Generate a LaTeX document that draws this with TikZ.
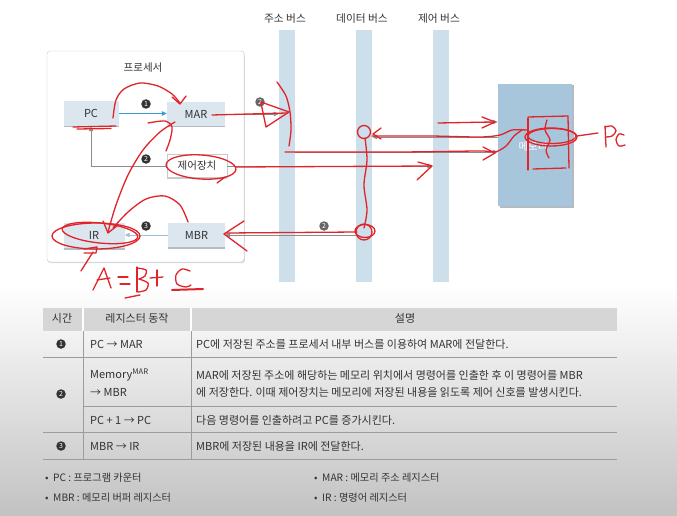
\documentclass[tikz,border=0pt]{standalone}
\usepackage{fontspec}
\setmainfont{Noto Sans CJK KR}
\usetikzlibrary{arrows.meta,shadows}
\definecolor{boxfill}{HTML}{DCE6EF}
\definecolor{boxshadow}{HTML}{B4BDC6}
\definecolor{busfill}{HTML}{CCDFEA}
\definecolor{memfill}{HTML}{A7C6DB}
\definecolor{memshadow}{HTML}{7F8E98}
\definecolor{txt}{HTML}{333333}
\definecolor{linegray}{HTML}{8C8C8C}
\definecolor{arrowblue}{HTML}{3E9BD2}
\definecolor{paleblue}{HTML}{9CC3DD}
\definecolor{pen}{HTML}{E0242A}
\definecolor{hdrfill}{HTML}{D6D6D6}
\definecolor{rulegray}{HTML}{9C9C9C}
\definecolor{bgbot}{HTML}{C2C2C2}
\definecolor{badgefill}{HTML}{333333}
\definecolor{badgegray}{HTML}{666666}
\definecolor{procborder}{HTML}{C9C9C9}
\tikzset{
  fsz/.style={font=\fontsize{#1}{#1}\selectfont},
  reg/.style={fill=boxfill, inner sep=0pt, text=txt, fsz=11,
    drop shadow={shadow xshift=0pt, shadow yshift=-1.5pt, fill=boxshadow, opacity=1}},
  ctrlbox/.style={fill=white, draw=procborder, line width=0.4pt, inner sep=0pt, text=txt, fsz=10.5,
    drop shadow={shadow xshift=0pt, shadow yshift=-1.2pt, fill=boxshadow, opacity=.8}},
  bus/.style={fill=busfill, inner sep=0pt, minimum width=16, minimum height=251},
  buslabel/.style={text=txt, fsz=10.7, inner sep=0pt},
  badge/.style={circle, fill=badgefill, text=white, inner sep=0pt, minimum size=9.5,
    font=\fontsize{7}{7}\selectfont},
  gbadge/.style={badge, fill=badgegray},
  garrow/.style={draw=linegray, line width=0.9pt, -{Triangle[length=5pt,width=4.5pt]}},
  barrow/.style={draw=arrowblue, line width=1pt, -{Triangle[length=5pt,width=4.5pt]}},
  parrow/.style={draw=paleblue, line width=1pt, -{Triangle[length=5pt,width=4.5pt]}},
  redpen/.style={draw=pen, line width=1.3pt, line cap=round, line join=round},
  cell/.style={anchor=west, text=txt, fsz=11, inner sep=0pt},
  hcell/.style={text=txt, fsz=11, inner sep=0pt},
  legend/.style={anchor=west, text=txt, fsz=10.2, inner sep=0pt}
}
\begin{document}
\begin{tikzpicture}[x=1pt,y=-1pt]
\useasboundingbox (0,0) rectangle (677,516);
\fill[white] (0,0) rectangle (677,516);
\shade[top color=white, bottom color=bgbot] (0,285) rectangle (677,516);

% processor
\node[draw=procborder, fill=white, rounded corners=3, minimum width=197, minimum height=211, inner sep=0pt,
  drop shadow={shadow xshift=0.8pt, shadow yshift=-1.2pt, fill=boxshadow, opacity=.6}] (proc) at (145.5,156.5) {};
\node[text=txt, fsz=10.5, inner sep=0pt] (proctitle) at (143,68) {프로세서};

\node[reg, minimum width=55, minimum height=25] (pc) at (91,113.5) {PC};
\node[reg, minimum width=58, minimum height=24] (mar) at (196,114) {MAR};
\node[ctrlbox, minimum width=60, minimum height=23] (ctrl) at (197,166) {제어장치};
\node[reg, minimum width=61, minimum height=25] (ir) at (94,235.5) {IR};
\node[reg, minimum width=57, minimum height=24] (mbr) at (196.5,235) {MBR};

\draw[barrow] (pc.east) -- (pc.east -| mar.west);
\node[badge] (b1) at (146,104) {1};
\draw[garrow] (ctrl.west) -| (pc.south);
\node[badge] (b2) at (146,159) {2};
\draw[parrow] (mbr.west) -- (mbr.west -| ir.east);
\node[badge] (b3) at (146,226) {3};

% buses
\node[bus] (abus) at (287,156) {};
\node[bus] (dbus) at (364,156) {};
\node[bus] (cbus) at (440.5,156) {};
\node[buslabel] (labus) at (285,19) {주소 버스};
\node[buslabel] (ldbus) at (362,19) {데이터 버스};
\node[buslabel] (lcbus) at (439,19) {제어 버스};

% memory
\node[fill=memfill, minimum width=74, minimum height=122, inner sep=0pt,
  drop shadow={shadow xshift=1.5pt, shadow yshift=-1.5pt, fill=memshadow, opacity=.6}] (mem) at (535,145) {};
\node[text=white, fsz=10.5, inner sep=0pt] (memlabel) at (533,147) {메모리};

\coordinate (y122) at (0,122);
\coordinate (y137) at (0,137);
\coordinate (y152) at (0,152);
\coordinate (y235) at (0,235);

\draw[garrow] (mar.east) -- (mar.east -| abus.west);
\node[gbadge] (b2a) at (260,102) {2};
\draw[garrow] (ctrl.east) -- (ctrl.east -| cbus.west);
\draw[garrow] (cbus.east |- y122) -- (mem.west |- y122);
\draw[garrow] (mem.west |- y137) -- (dbus.east |- y137);
\draw[garrow] (abus.east |- y152) -- (mem.west |- y152);
\draw[garrow] (dbus.west |- y235) -- (mbr.east |- y235);
\node[gbadge] (b2b) at (324,226) {2};

% table
\fill[hdrfill] (43,308) rectangle (617,331);
\draw[white, line width=1.2pt] (83,308) -- (83,331) (191,308) -- (191,331);
\draw[rulegray, line width=0.8pt] (43,357) -- (617,357) (83,406.5) -- (617,406.5)
  (43,432.5) -- (617,432.5) (43,459) -- (617,459) (83,331) -- (83,459) (191,331) -- (191,459);
\node[hcell] (h1) at (62,318) {시간};
\node[hcell] (h2) at (137,318) {레지스터 동작};
\node[hcell] (h3) at (405,318) {설명};

\node[badge] (t1) at (61,344) {1};
\node[badge] (t2) at (61,394) {2};
\node[badge] (t3) at (61,446) {3};
\node[cell] (c11) at (90,344) {PC → MAR};
\node[cell] (c21) at (90,375) {Memory\textsuperscript{MAR}};
\node[cell] (c22) at (90,392) {→ MBR};
\node[cell] (c31) at (90,420) {PC + 1 → PC};
\node[cell] (c41) at (90,446) {MBR → IR};
\node[cell] (d1) at (196,344) {PC에 저장된 주소를 프로세서 내부 버스를 이용하여 MAR에 전달한다.};
\node[cell] (d2) at (196,375) {MAR에 저장된 주소에 해당하는 메모리 위치에서 명령어를 인출한 후 이 명령어를 MBR};
\node[cell] (d3) at (196,392) {에 저장한다. 이때 제어장치는 메모리에 저장된 내용을 읽도록 제어 신호를 발생시킨다.};
\node[cell] (d4) at (196,420) {다음 명령어를 인출하려고 PC를 증가시킨다.};
\node[cell] (d5) at (196,446) {MBR에 저장된 내용을 IR에 전달한다.};

% legend
\node[legend] (g1) at (45,478) {•\ \ PC : 프로그램 카운터};
\node[legend] (g2) at (45,497.5) {•\ \ MBR : 메모리 버퍼 레지스터};
\node[legend] (g3) at (314,478) {•\ \ MAR : 메모리 주소 레지스터};
\node[legend] (g4) at (314,497.5) {•\ \ IR : 명령어 레지스터};

% red annotations
\draw[redpen] plot[smooth] coordinates {(113,118) (116,100) (124,89) (140,83) (158,86) (172,94) (180,103)};
\draw[redpen] (172,97) -- (180,104) -- (186,96);
\draw[redpen] (73,127) -- (116,126);
\draw[redpen] (77,129) -- (111,128.5);
\draw[redpen] (212,115) -- (287,113);
\draw[redpen] (261,102) -- (289,112) -- (266,127) -- (261,103);
\draw[redpen] plot[smooth] coordinates {(277,82) (286,96) (290,112) (291,130) (289,146)};
\draw[redpen, rotate around={-4:(201,167)}] (201,167) ellipse [x radius=35, y radius=12];
\draw[redpen] (225,177) -- (217,183);
\draw[redpen] (236,167) -- (431,166);
\draw[redpen] (418,162) -- (432,166) -- (417,180);
\draw[redpen] plot[smooth] coordinates {(148,123) (165,121) (172,127) (170,140) (166,151)};
\draw[redpen] plot[smooth] coordinates {(175,122) (160,132) (143,150) (128,175) (116,205) (108,232)};
\draw[redpen] (103,221) -- (108,233) -- (118,225);
\draw[redpen] plot[smooth] coordinates {(188,222) (180,205) (165,196) (146,199) (128,212) (113,228)};
\draw[redpen] (96,236) ellipse [x radius=44, y radius=13];
\draw[redpen, rotate around={-6:(100,233)}] (100,233) ellipse [x radius=38, y radius=10];
\draw[redpen] (84,249) -- (97,247) -- (96,253) -- (84,253);
\draw[redpen] (93,252) -- (81,271);
% A = B + C
\draw[redpen] (93,290) -- (104,268) -- (111,288);
\draw[redpen] (97,280) -- (110,278);
\draw[redpen] (118,277) -- (128,277);
\draw[redpen] (120,284) -- (130,284);
\draw[redpen] (137,267) -- (137,292);
\draw[redpen] plot[smooth] coordinates {(137,268) (146,270) (145,276) (139,279)};
\draw[redpen] plot[smooth] coordinates {(139,279) (148,283) (146,290) (138,292)};
\draw[redpen] (150,278) -- (163,277);
\draw[redpen] (157,270) -- (157,286);
\draw[redpen] plot[smooth] coordinates {(190,271) (182,269) (176,275) (177,284) (186,287) (191,285)};
\draw[redpen, line width=2pt] (172,290) -- (203,289);
\draw[redpen] (125,298) -- (140,295);
% data bus & memory
\draw[redpen] (364,132) circle [radius=6.5];
\draw[redpen] (381,128) -- (373,134) -- (381,139);
\draw[redpen] plot[smooth] coordinates {(365,138) (367,160) (364,185) (367,210) (364,228)};
\draw[redpen] (364,232) circle [radius=8];
\draw[redpen] (365,231) ellipse [x radius=10, y radius=6.5];
\draw[redpen] (357,232) -- (226,233);
\draw[redpen] (244,221) -- (224,234) -- (247,251);
\draw[redpen] (438,123) -- (492,122);
\draw[redpen] (482,117) -- (495,122) -- (482,128);
\draw[redpen] plot[smooth] coordinates {(372,136) (430,136) (480,137) (500,135) (512,130) (527,130)};
\draw[redpen] plot[smooth] coordinates {(285,152) (400,152) (480,151) (495,152) (506,146) (514,136) (522,130)};
\draw[redpen] (483,147) -- (495,153) -- (483,160);
\draw[redpen] (528,118) -- (528,170);
\draw[redpen] (528,117) -- (568,116) -- (569,168);
\draw[redpen] (533,169) -- (566,168);
\draw[redpen] plot[smooth] coordinates {(547,120) (545,130) (550,140) (546,150) (549,158)};
\draw[redpen] (551,137) ellipse [x radius=26, y radius=9];
\draw[redpen] (552,136) ellipse [x radius=24, y radius=7.5];
\draw[redpen] (577,136) -- (598,133);
\draw[redpen] (605,126) -- (606,147);
\draw[redpen] plot[smooth] coordinates {(605,127) (612,126) (616,131) (612,136) (606,137)};
\draw[redpen] plot[smooth] coordinates {(624,135) (619,134) (616,140) (619,146) (625,145)};
\end{tikzpicture}
\end{document}
